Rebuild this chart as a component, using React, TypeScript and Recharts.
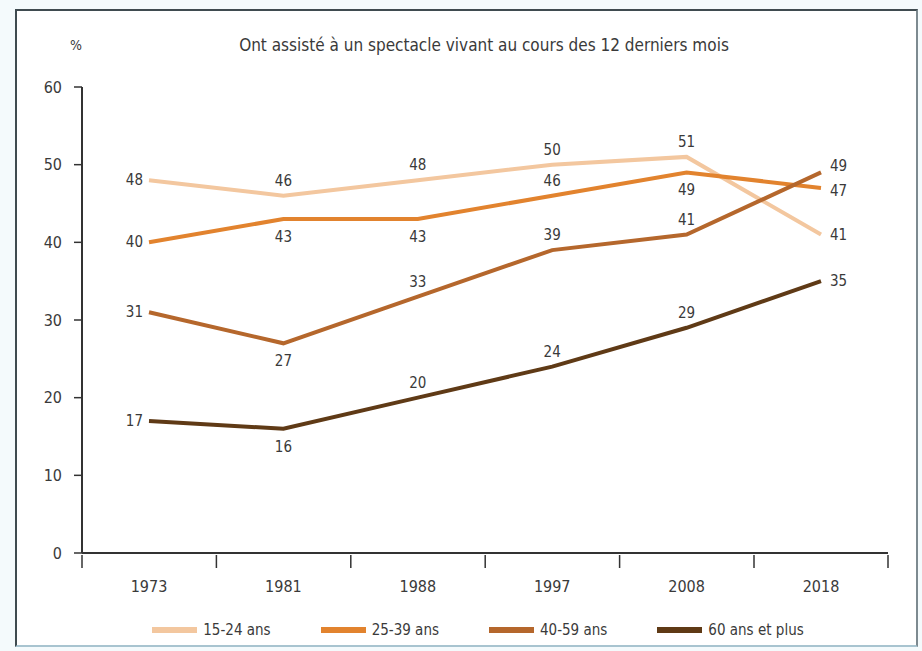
import { CartesianGrid, LabelList, Legend, Line, LineChart, XAxis, YAxis } from "recharts";

const years = ["1973", "1981", "1988", "1997", "2008", "2018"];
const ages15to24 = [48, 46, 48, 50, 51, 41];
const ages25to39 = [40, 43, 43, 46, 49, 47];
const ages40to59 = [31, 27, 33, 39, 41, 49];
const ages60plus = [17, 16, 20, 24, 29, 35];
const yTicks = [0, 10, 20, 30, 40, 50, 60];

const FONT = '"DejaVu Sans", sans-serif';
const STRETCH = "condensed";
const TEXT = "#3a3a3a";

const data = years.map((year, i) => ({
  year,
  a: ages15to24[i],
  b: ages25to39[i],
  c: ages40to59[i],
  d: ages60plus[i],
}));

// where each value label sits relative to its point (and a small vertical nudge for the last one)
const SERIES = [
  { key: "a", name: "15-24 ans", color: "#f3c79f", labels: ["left", "top", "top", "top", "top", "right"], endNudge: 0 },
  { key: "b", name: "25-39 ans", color: "#e2832e", labels: ["left", "bottom", "bottom", "top", "bottom", "right"], endNudge: 3 },
  { key: "c", name: "40-59 ans", color: "#b5672c", labels: ["left", "bottom", "top", "top", "top", "right"], endNudge: -6 },
  { key: "d", name: "60 ans et plus", color: "#5f3a16", labels: ["left", "bottom", "top", "top", "top", "right"], endNudge: 0 },
];

const HALF_BAND = 67;

function PointLabel(props: any) {
  const { x, y, value, index, where, endNudge } = props;
  const pos = where[index];
  let tx = x;
  let ty = y;
  let anchor: "start" | "middle" | "end" = "middle";
  if (pos === "left") {
    tx = x - 6;
    anchor = "end";
  } else if (pos === "right") {
    tx = x + 9;
    ty = y + endNudge;
    anchor = "start";
  } else if (pos === "top") {
    ty = y - 15;
  } else {
    ty = y + 18;
  }
  return (
    <text
      x={tx}
      y={ty}
      textAnchor={anchor}
      dominantBaseline="central"
      fill={TEXT}
      fontSize={15}
      fontFamily={FONT}
      style={{ fontStretch: STRETCH }}
    >
      {value}
    </text>
  );
}

function YearTick(props: any) {
  const { x, y, payload, index } = props;
  const last = index === years.length - 1;
  return (
    <g>
      <line x1={x - HALF_BAND} y1={y - 6} x2={x - HALF_BAND} y2={y + 7} stroke="#333" strokeWidth={1.5} />
      {last && <line x1={x + HALF_BAND} y1={y - 6} x2={x + HALF_BAND} y2={y + 7} stroke="#333" strokeWidth={1.5} />}
      <text
        x={x}
        y={y + 25}
        textAnchor="middle"
        dominantBaseline="central"
        fill={TEXT}
        fontSize={16}
        fontFamily={FONT}
        style={{ fontStretch: STRETCH }}
      >
        {payload.value}
      </text>
    </g>
  );
}

function LegendContent() {
  return (
    <div
      style={{
        display: "flex",
        justifyContent: "center",
        gap: 50,
        paddingLeft: 34,
        fontFamily: FONT,
        fontStretch: STRETCH,
        fontSize: 15,
        color: TEXT,
        height: 24,
        alignItems: "center",
      }}
    >
      {SERIES.map((s) => (
        <div key={s.key} style={{ display: "flex", alignItems: "center" }}>
          <span style={{ display: "inline-block", width: 45, height: 6, background: s.color, marginRight: 6 }} />
          <span>{s.name}</span>
        </div>
      ))}
    </div>
  );
}

export default function App() {
  return (
    <div
      style={{
        position: "absolute",
        left: 0,
        top: 0,
        width: 922,
        height: 651,
        background: "#f4fafc",
        fontFamily: FONT,
        fontStretch: STRETCH,
      }}
    >
      <div
        style={{
          position: "absolute",
          left: 15,
          top: 9,
          width: 899,
          height: 634,
          background: "#fff",
          borderTop: "2px solid #3f4b50",
          borderLeft: "2px solid #3f4b50",
          borderRight: "2px solid #7d8a90",
          borderBottom: "2px solid #a8c4d0",
        }}
      />
      <div style={{ position: "absolute", left: 70, top: 37, fontSize: 14, color: TEXT }}>%</div>
      <div style={{ position: "absolute", left: 0, width: 968, top: 35, textAlign: "center", fontSize: 17, color: TEXT }}>
        Ont assisté à un spectacle vivant au cours des 12 derniers mois
      </div>
      <div style={{ position: "absolute", left: 0, top: 0 }}>
        <LineChart width={922} height={651} data={data} margin={{ top: 87, right: 34, bottom: 44, left: 22 }}>
          <CartesianGrid stroke="none" />
          <XAxis
            dataKey="year"
            padding={{ left: HALF_BAND, right: HALF_BAND }}
            axisLine={{ stroke: "#333", strokeWidth: 2 }}
            tickLine={false}
            tick={<YearTick />}
            height={30}
            interval={0}
          />
          <YAxis
            domain={[0, 60]}
            ticks={yTicks}
            width={60}
            axisLine={{ stroke: "#333", strokeWidth: 2 }}
            tickLine={{ stroke: "#333", strokeWidth: 1.5 }}
            tickSize={8}
            tickMargin={12}
            tick={{ fill: TEXT, fontSize: 16, fontFamily: FONT, style: { fontStretch: STRETCH } }}
          />
          <Legend
            content={<LegendContent />}
            verticalAlign="bottom"
            wrapperStyle={{ position: "absolute", left: 0, top: 618, width: 922, height: 24 }}
          />
          {SERIES.map((s) => (
            <Line
              key={s.key}
              dataKey={s.key}
              name={s.name}
              type="linear"
              stroke={s.color}
              strokeWidth={4}
              dot={false}
              activeDot={false}
              isAnimationActive={false}
            >
              <LabelList dataKey={s.key} content={<PointLabel where={s.labels} endNudge={s.endNudge} />} />
            </Line>
          ))}
        </LineChart>
      </div>
    </div>
  );
}
